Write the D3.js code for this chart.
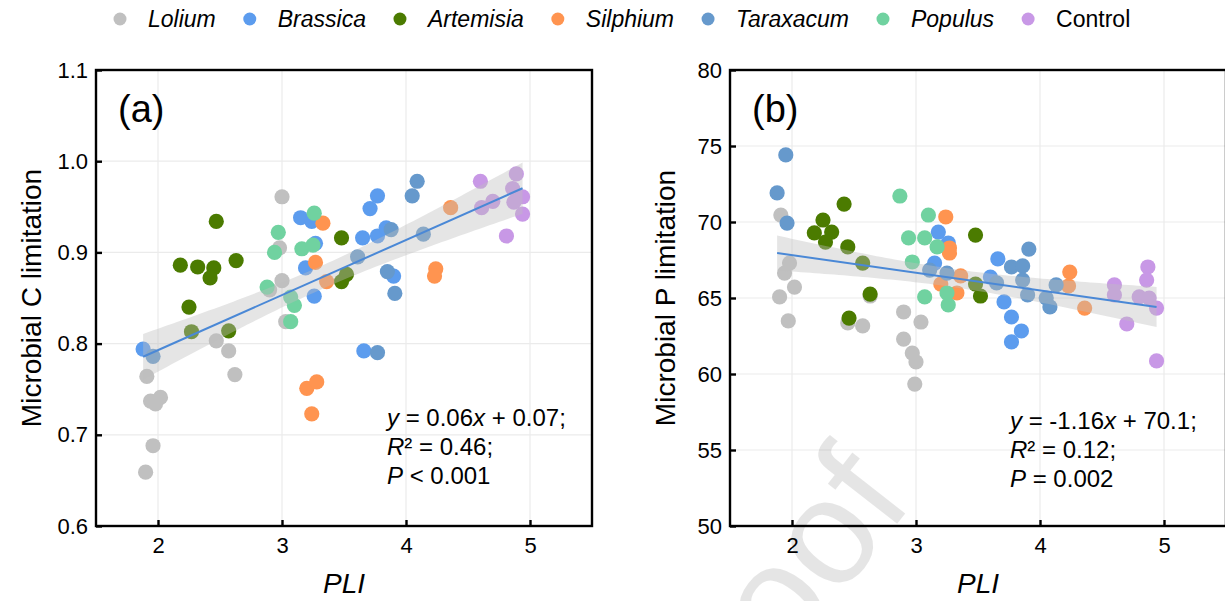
<!DOCTYPE html>
<html>
<head>
<meta charset="utf-8">
<script src="https://cdn.jsdelivr.net/npm/d3@7"></script>
<style>
  body { margin: 0; background: #fff; }
  svg { display: block; }
  text { font-family: "Liberation Sans", Arial, sans-serif; fill: #000; }
</style>
</head>
<body>
<svg width="1225" height="601"></svg>
<script>
const groups = ['Lolium', 'Brassica', 'Artemisia', 'Silphium', 'Taraxacum', 'Populus', 'Control'];
const groupColors = ['#c0c0c0', '#5c9cee', '#4b7b00', '#ff9450', '#6699cc', '#70d2a0', '#c898e6'];
const italicName = [true, true, true, true, true, true, false];

const xTicks = [2, 3, 4, 5];
const yTicksC = [0.6, 0.7, 0.8, 0.9, 1.0, 1.1];
const yTicksP = [50, 55, 60, 65, 70, 75, 80];

// (a) microbial C limitation vs PLI  -> [PLI, value]
const lolium_C = [[3.00,0.961],[2.98,0.905],[3.00,0.869],[2.90,0.859],[3.03,0.824],[1.91,0.764],[1.94,0.737],
                  [1.98,0.734],[2.02,0.741],[1.96,0.688],[1.90,0.659],[2.47,0.803],[2.57,0.792],[2.62,0.766]];
const brassica_C = [[1.88,0.794],[3.15,0.938],[3.24,0.934],[3.27,0.910],[3.19,0.883],[3.26,0.852],[3.77,0.962],
                    [3.71,0.948],[3.65,0.916],[3.77,0.918],[3.84,0.927],[3.90,0.874],[3.66,0.792]];
const artemisia_C = [[2.47,0.934],[2.18,0.886],[2.32,0.884],[2.45,0.883],[2.42,0.872],[2.63,0.891],[2.25,0.840],
                     [2.27,0.813],[2.57,0.814],[3.48,0.916],[3.52,0.876],[3.48,0.868]];
const silphium_C = [[3.33,0.932],[3.27,0.889],[3.36,0.868],[4.36,0.949],[4.24,0.882],[4.23,0.874],[3.20,0.751],
                    [3.28,0.758],[3.24,0.723]];
const taraxacum_C = [[1.96,0.786],[4.09,0.978],[4.05,0.962],[3.88,0.925],[4.14,0.920],[3.61,0.895],[3.85,0.879],
                     [3.91,0.855],[3.77,0.790]];
const populus_C = [[3.26,0.943],[2.97,0.922],[2.94,0.900],[3.16,0.904],[3.25,0.908],[2.88,0.862],[3.07,0.851],
                   [3.10,0.842],[3.07,0.824]];
const control_C = [[4.60,0.978],[4.89,0.986],[4.86,0.970],[4.94,0.961],[4.70,0.956],[4.61,0.949],[4.87,0.955],
                   [4.94,0.942],[4.81,0.918]];

// (b) microbial P limitation vs PLI
const lolium_P = [[1.91,70.46],[1.98,67.30],[1.94,66.64],[2.02,65.72],[1.90,65.07],[1.97,63.49],[2.45,63.36],
                  [2.57,63.16],[2.63,65.13],[2.90,64.08],[3.04,63.42],[2.90,62.30],[2.97,61.38],[3.00,60.79],[2.99,59.34]];
const brassica_P = [[3.18,69.34],[3.26,68.62],[3.15,67.30],[3.66,67.57],[3.60,66.38],[3.71,64.74],[3.77,63.75],
                    [3.85,62.83],[3.77,62.11]];
const artemisia_P = [[2.25,70.13],[2.18,69.28],[2.32,69.34],[2.27,68.68],[2.42,71.18],[2.45,68.36],[2.57,67.30],
                     [2.63,65.26],[2.46,63.68],[3.48,69.14],[3.48,65.92],[3.52,65.13]];
const silphium_P = [[3.24,70.33],[3.27,68.29],[3.27,67.96],[3.36,66.45],[3.20,65.92],[3.33,65.33],[4.24,66.71],
                    [4.23,65.79],[4.36,64.34]];
const taraxacum_P = [[1.95,74.41],[1.88,71.91],[1.96,69.93],[3.91,68.22],[3.77,67.04],[3.86,67.11],[3.86,66.18],
                     [3.65,65.99],[3.90,65.20],[4.13,65.86],[4.05,65.00],[4.08,64.41],[3.11,66.84],[3.25,66.64]];
const populus_P = [[2.87,71.71],[3.10,70.46],[2.94,68.95],[3.07,68.95],[3.17,68.36],[2.97,67.37],[3.07,65.07],
                   [3.25,65.33],[3.26,64.54]];
const control_P = [[4.60,65.86],[4.60,65.20],[4.87,67.04],[4.86,66.18],[4.80,65.07],[4.88,65.00],[4.94,64.34],
                   [4.70,63.29],[4.94,60.86]];

const seriesC = [lolium_C, brassica_C, artemisia_C, silphium_C, taraxacum_C, populus_C, control_C];
const seriesP = [lolium_P, brassica_P, artemisia_P, silphium_P, taraxacum_P, populus_P, control_P];

// fitted lines: [slope, intercept]
const fitC = [0.0604, 0.672];
const fitP = [-1.16, 70.14];

const eqC = [['y', ' = 0.06'], ['x', ' + 0.07;']],
      eqP = [['y', ' = -1.16'], ['x', ' + 70.1;']];

let svg = d3.select('svg'),
    plotW = 496, plotH = 456, plotTop = 70;

function bandStats(pts, fit) {
    // residual spread around the fitted line, for the 95% band
    let n = pts.length,
        mx = d3.mean(pts, d => d[0]),
        sxx = d3.sum(pts, d => (d[0] - mx) ** 2),
        s = Math.sqrt(d3.sum(pts, d => (d[1] - fit[1] - fit[0] * d[0]) ** 2) / (n - 2));
    return {n, mx, sxx, s};
}

function plotPanel(left, series, fit, yDomain, yTicks, yFmt, opts) {
    let xScale = d3.scaleLinear().domain([1.5, 5.5]).range([left, left + plotW]),
        yScale = d3.scaleLinear().domain(yDomain).range([plotTop + plotH, plotTop]);

    let g = svg.append('g');

    // grid
    g.selectAll('.gx').data(xTicks).enter().append('line')
        .attr('x1', d => xScale(d)).attr('x2', d => xScale(d))
        .attr('y1', plotTop).attr('y2', plotTop + plotH)
        .attr('stroke', '#ebebeb').attr('stroke-width', 1.2);
    g.selectAll('.gy').data(yTicks).enter().append('line')
        .attr('x1', left).attr('x2', left + plotW)
        .attr('y1', d => yScale(d)).attr('y2', d => yScale(d))
        .attr('stroke', '#ebebeb').attr('stroke-width', 1.2);

    // points
    series.forEach((pts, i) => {
        g.append('g').selectAll('circle')
            .data(pts)
            .enter()
            .append('circle')
            .attr('cx', d => xScale(d[0]))
            .attr('cy', d => yScale(d[1]))
            .attr('r', 7.6)
            .attr('fill', groupColors[i]);
    });

    // regression + 95% CI
    let all = [].concat(...series),
        st = bandStats(all, fit),
        line = x => fit[1] + fit[0] * x,
        xExt = d3.extent(all, d => d[0]),
        xs = d3.range(0, 81).map(k => xExt[0] + (xExt[1] - xExt[0]) * k / 80),
        ci = x => 1.993 * st.s * Math.sqrt(1 / st.n + (x - st.mx) ** 2 / st.sxx);

    let band = d3.area()
        .x(x => xScale(x))
        .y0(x => yScale(line(x) - ci(x)))
        .y1(x => yScale(line(x) + ci(x)));
    g.append('path').datum(xs).attr('d', band)
        .attr('fill', 'rgb(190,190,190)').attr('fill-opacity', 0.4);

    g.append('line')
        .attr('x1', xScale(xExt[0])).attr('y1', yScale(line(xExt[0])))
        .attr('x2', xScale(xExt[1])).attr('y2', yScale(line(xExt[1])))
        .attr('stroke', '#4a88d6').attr('stroke-width', 2);

    // frame and inner ticks
    g.append('rect')
        .attr('x', left).attr('y', plotTop).attr('width', plotW).attr('height', plotH)
        .attr('fill', 'none').attr('stroke', '#000').attr('stroke-width', 2.4);

    let yAxis = g.append('g')
        .attr('transform', `translate(${left},0)`)
        .call(d3.axisLeft(yScale).tickValues(yTicks).tickFormat(yFmt).tickSizeInner(-6).tickSizeOuter(0).tickPadding(8));
    let xAxis = g.append('g')
        .attr('transform', `translate(0,${plotTop + plotH})`)
        .call(d3.axisBottom(xScale).tickValues(xTicks).tickFormat(d3.format('d')).tickSizeInner(-6).tickSizeOuter(0).tickPadding(11));
    [xAxis, yAxis].forEach(ax => {
        ax.select('.domain').remove();
        ax.selectAll('line').attr('stroke', '#000').attr('stroke-width', 2.4);
        ax.selectAll('text').attr('font-size', 22).attr('font-family', '"Liberation Sans", Arial, sans-serif').attr('fill', '#000');
    });

    // titles
    g.append('text')
        .attr('transform', `translate(${left - 55},${plotTop + plotH / 2}) rotate(-90)`)
        .attr('text-anchor', 'middle')
        .attr('font-size', 28)
        .text(opts.yTitle);
    g.append('text')
        .attr('x', left + plotW / 2).attr('y', 593)
        .attr('text-anchor', 'middle')
        .attr('font-size', 28).attr('font-style', 'italic')
        .text('PLI');

    g.append('text')
        .attr('x', left + 22).attr('y', 122)
        .attr('font-size', 38)
        .text(opts.tag);

    // equation block
    let lines = [opts.eq, [['R', '² = ' + opts.r2 + ';']], [['P', opts.p]]];
    lines.forEach((parts, li) => {
        let t = g.append('text')
            .attr('x', left + opts.eqX).attr('y', opts.eqY + li * 28.8)
            .attr('font-size', 24);
        parts.forEach(p => {
            t.append('tspan').attr('font-style', 'italic').text(p[0]);
            t.append('tspan').text(p[1]);
        });
    });
}

plotPanel(96, seriesC, fitC, [0.6, 1.1], yTicksC, d3.format('.1f'),
    {yTitle: 'Microbial C limitation', tag: '(a)', eq: eqC, r2: '0.46', p: ' < 0.001', eqX: 291, eqY: 426});
plotPanel(730, seriesP, fitP, [50, 80], yTicksP, d3.format('d'),
    {yTitle: 'Microbial P limitation', tag: '(b)', eq: eqP, r2: '0.12', p: ' = 0.002', eqX: 280, eqY: 429});

// legend
let legend = svg.append('g').attr('class', 'legend');
let lx = 120;
groups.forEach((name, i) => {
    legend.append('circle')
        .attr('cx', lx).attr('cy', 19).attr('r', 6.5)
        .attr('fill', groupColors[i]);
    let t = legend.append('text')
        .attr('x', lx + 28).attr('y', 27)
        .attr('font-size', 23)
        .attr('font-style', italicName[i] ? 'italic' : 'normal')
        .text(name);
    lx = lx + 28 + t.node().getComputedTextLength() + 34;
});

// watermark
svg.append('text')
    .attr('transform', 'translate(694,784) rotate(-52)')
    .attr('font-size', 150)
    .attr('fill', '#000')
    .attr('fill-opacity', 0.1)
    .text('Proof');
</script>
</body>
</html>
